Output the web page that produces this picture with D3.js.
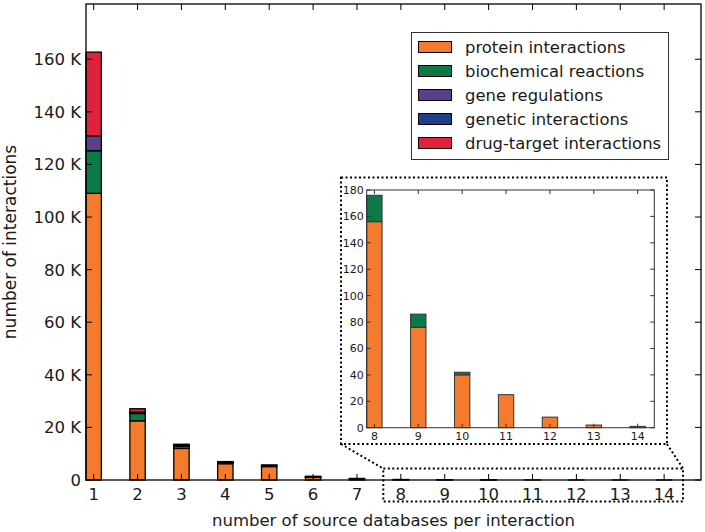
<!DOCTYPE html>
<html><head><meta charset="utf-8">
<script src="https://cdn.jsdelivr.net/npm/d3@7"></script>
<style>body{margin:0;background:#fff;} svg{display:block;} text{font-family:"DejaVu Sans",sans-serif;fill:#1a1a1a;}</style>
</head><body><svg id="c" width="705" height="532"></svg>
<script>
const categories = [1,2,3,4,5,6,7,8,9,10,11,12,13,14];
const seriesNames = ["protein interactions","biochemical reactions","gene regulations","genetic interactions","drug-target interactions"];
const protein     = [109000,22500,12000,6200,5100,1000,500,156,76,40,25,8,2,1];
const biochemical = [16200,2800,800,400,500,300,100,20,10,2,0,0,0,0];
const geneReg     = [5700,400,400,200,0,0,0,0,0,0,0,0,0,0];
const genetic     = [0,100,200,100,0,0,0,0,0,0,0,0,0,0];
const drugTarget  = [31800,1300,200,100,100,100,0,0,0,0,0,0,0,0];
const mainYTicks = [0,20000,40000,60000,80000,100000,120000,140000,160000];
const insetYTicks = [0,20,40,60,80,100,120,140,160,180];
const insetCats = [8,9,10,11,12,13,14];
const colors = ["#f47b2e","#0b7a47","#5a3f8c","#1f3e87","#e0213b"];

const seriesVals = [protein,biochemical,geneReg,genetic,drugTarget];
const rows = categories.map((c,i)=>{const r={cat:c}; seriesNames.forEach((s,k)=>r[s]=seriesVals[k][i]); return r;});
const stacked = d3.stack().keys(seriesNames)(rows);

const svg = d3.select("#c");
const L=86,R=701,T=4,B=480;
const x = d3.scaleLinear().domain([0.825,14.84]).range([L,R]);
const y = d3.scaleLinear().domain([0,181000]).range([B,T]);
const bw = 0.35;
const tl = 6;

// main bars
stacked.forEach((layer,k)=>{
  svg.append("g").selectAll("rect").data(layer).join("rect")
    .attr("x",d=>x(d.data.cat-bw/2)).attr("width",x(bw)-x(0))
    .attr("y",d=>y(d[1])).attr("height",d=>Math.max(0,y(d[0])-y(d[1])))
    .attr("fill",colors[k]).attr("stroke","#000").attr("stroke-width",1.3);
});
// main frame
svg.append("rect").attr("x",L).attr("y",T).attr("width",R-L).attr("height",B-T).attr("fill","none").attr("stroke","#000").attr("stroke-width",1.3);
// ticks
const gt = svg.append("g").attr("stroke","#000").attr("stroke-width",1);
categories.forEach(c=>{
  gt.append("line").attr("x1",x(c)).attr("x2",x(c)).attr("y1",B).attr("y2",B-tl);
  gt.append("line").attr("x1",x(c)).attr("x2",x(c)).attr("y1",T).attr("y2",T+tl);
  svg.append("text").attr("x",x(c)).attr("y",B+20).attr("text-anchor","middle").style("font-size","16.5px").text(c);
});
mainYTicks.forEach(v=>{
  gt.append("line").attr("x1",L).attr("x2",L+tl).attr("y1",y(v)).attr("y2",y(v));
  gt.append("line").attr("x1",R).attr("x2",R-tl).attr("y1",y(v)).attr("y2",y(v));
  svg.append("text").attr("x",L-5).attr("y",y(v)).attr("dy","0.36em").attr("text-anchor","end").style("font-size","16.5px").text(v===0?"0":(v/1000)+" K");
});
svg.append("text").attr("x",(L+R)/2).attr("y",526).attr("text-anchor","middle").style("font-size","16.5px").text("number of source databases per interaction");
svg.append("text").attr("transform",`translate(16,${(T+B)/2}) rotate(-90)`).attr("text-anchor","middle").style("font-size","17px").text("number of interactions");

// legend
const lg = svg.append("g");
lg.append("rect").attr("x",411.5).attr("y",32.5).attr("width",257).attr("height",127).attr("fill","#fff").attr("stroke","#333").attr("stroke-width",1);
seriesNames.forEach((s,k)=>{
  lg.append("rect").attr("x",418.5).attr("y",41.5+k*24).attr("width",33).attr("height",11).attr("fill",colors[k]).attr("stroke","#000").attr("stroke-width",1);
  lg.append("text").attr("x",465).attr("y",47+k*24).attr("dy","0.36em").style("font-size","16.4px").text(s);
});

// dotted zoom annotation
const dot = svg.append("g").attr("fill","none").attr("stroke","#000").attr("stroke-width",2).attr("stroke-dasharray","2,2.5");
const bx0=341,by0=177.5,bx1=667,by1=444;
dot.append("rect").attr("x",bx0).attr("y",by0).attr("width",bx1-bx0).attr("height",by1-by0);
const lx0=x(7.6),lx1=x(14.43),ly0=468.5,ly1=501.5;
dot.append("rect").attr("x",lx0).attr("y",ly0).attr("width",lx1-lx0).attr("height",ly1-ly0);
dot.append("line").attr("x1",bx0).attr("y1",by1).attr("x2",lx0).attr("y2",ly0);
dot.append("line").attr("x1",bx1).attr("y1",by1).attr("x2",lx1).attr("y2",ly0);

// inset
const iL=366.7,iR=654.3,iT=190,iB=427.7;
const xi = d3.scaleLinear().domain([7.825,14.378]).range([iL,iR]);
const yi = d3.scaleLinear().domain([0,180]).range([iB,iT]);
const insetStack = stacked.map(layer=>layer.filter(d=>d.data.cat>=8));
svg.append("rect").attr("x",iL).attr("y",iT).attr("width",iR-iL).attr("height",iB-iT).attr("fill","#fff");
insetStack.forEach((layer,k)=>{
  svg.append("g").selectAll("rect").data(layer.filter(d=>d[1]>d[0])).join("rect")
    .attr("x",d=>xi(d.data.cat-bw/2)).attr("width",xi(bw)-xi(0))
    .attr("y",d=>yi(d[1])).attr("height",d=>Math.max(0,yi(d[0])-yi(d[1])))
    .attr("fill",colors[k]).attr("stroke","#333").attr("stroke-width",1);
});
svg.append("rect").attr("x",iL).attr("y",iT).attr("width",iR-iL).attr("height",iB-iT).attr("fill","none").attr("stroke","#333").attr("stroke-width",1);
const it = svg.append("g").attr("stroke","#333").attr("stroke-width",1);
insetCats.forEach(c=>{
  it.append("line").attr("x1",xi(c)).attr("x2",xi(c)).attr("y1",iB).attr("y2",iB-4);
  it.append("line").attr("x1",xi(c)).attr("x2",xi(c)).attr("y1",iT).attr("y2",iT+4);
  svg.append("text").attr("x",xi(c)).attr("y",iB+12).attr("text-anchor","middle").style("font-size","11px").text(c);
});
insetYTicks.forEach(v=>{
  it.append("line").attr("x1",iL).attr("x2",iL+4).attr("y1",yi(v)).attr("y2",yi(v));
  it.append("line").attr("x1",iR).attr("x2",iR-4).attr("y1",yi(v)).attr("y2",yi(v));
  svg.append("text").attr("x",iL-3).attr("y",yi(v)).attr("dy","0.36em").attr("text-anchor","end").style("font-size","11px").text(v);
});
</script></body></html>
